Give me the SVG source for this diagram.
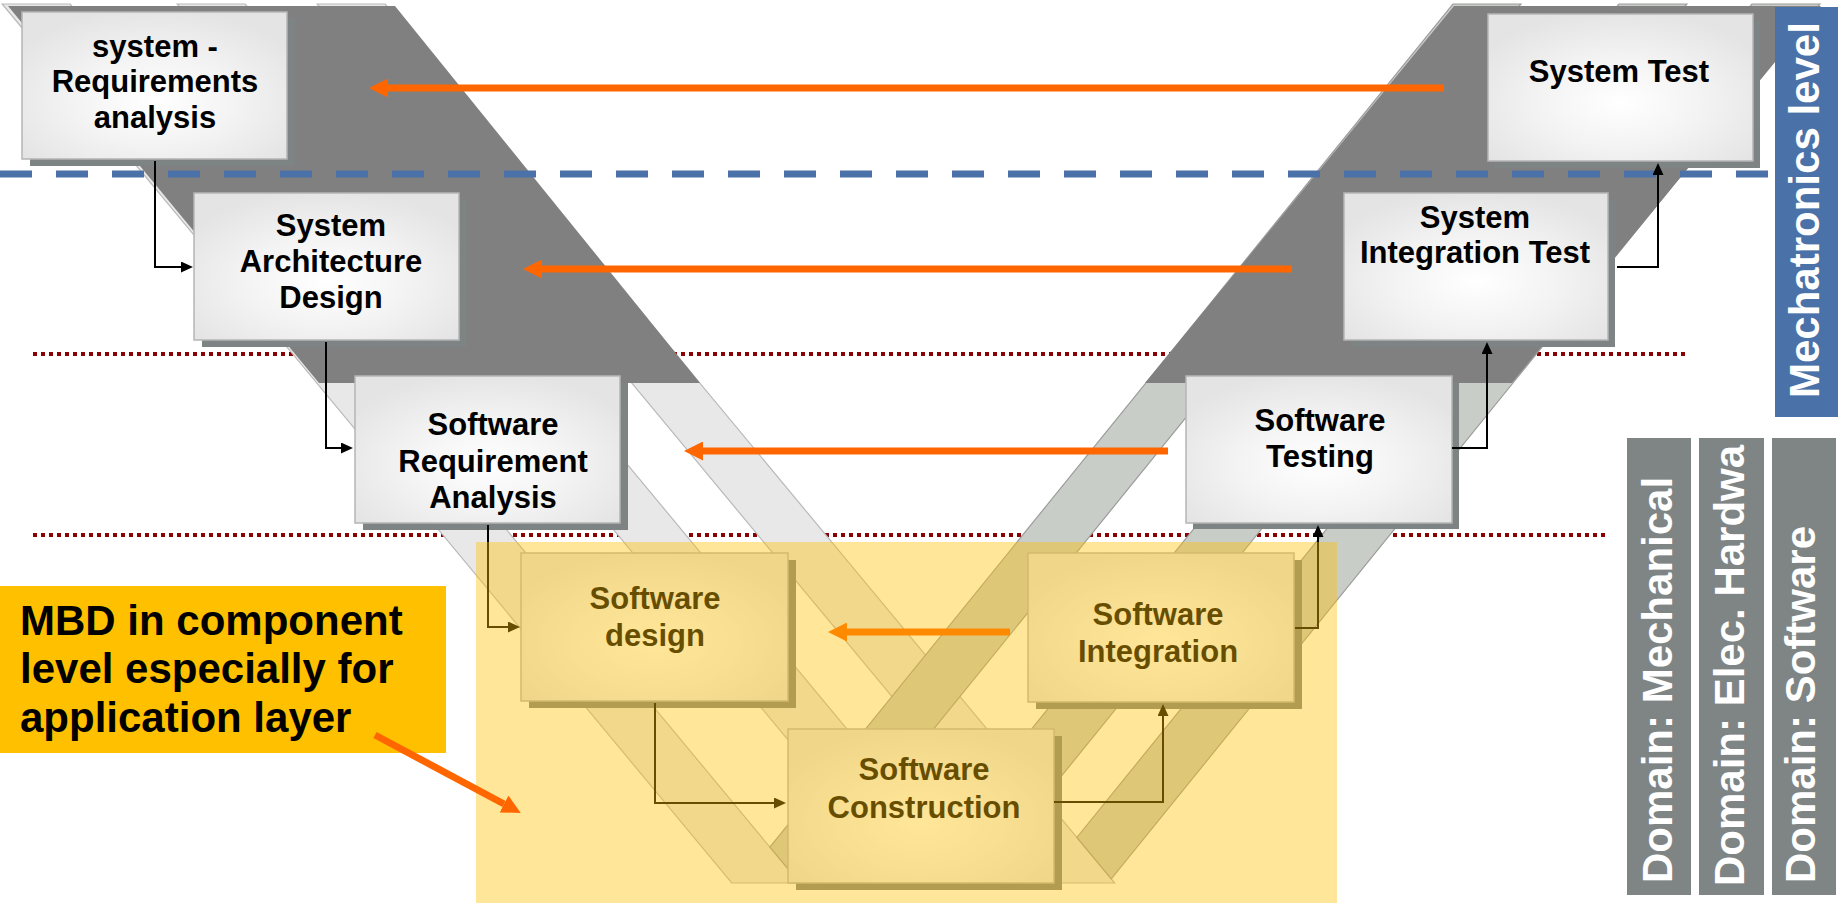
<svg xmlns="http://www.w3.org/2000/svg" width="1843" height="903" viewBox="0 0 1843 903">
<defs>
  <radialGradient id="gBox" cx="0.5" cy="0.6" r="0.62">
    <stop offset="0" stop-color="#ffffff"/>
    <stop offset="0.5" stop-color="#f3f3f3"/>
    <stop offset="1" stop-color="#e4e4e4"/>
  </radialGradient>
  <marker id="ah" markerUnits="userSpaceOnUse" markerWidth="12" markerHeight="11" refX="0" refY="5.5" orient="auto">
    <path d="M0,0 L12,5.5 L0,11 z" fill="#000"/>
  </marker>
  <marker id="oh" markerUnits="userSpaceOnUse" markerWidth="19" markerHeight="19" refX="0" refY="9.5" orient="auto">
    <path d="M0,0 L19,9.5 L0,19 z" fill="#FF6600"/>
  </marker>
  <clipPath id="clipBar2"><rect x="1699" y="438" width="65" height="457"/></clipPath>
</defs>
<style>
  .la{fill:#e8e8e8;stroke:#b9b9b9;stroke-width:1.2}
  .ra{fill:#c9cdc7;stroke:#9c9c9c;stroke-width:1.2}
  .band{fill:#808080}
  .shadow{fill:#7e8484}
  .box{fill:url(#gBox);stroke:#b5b5b5;stroke-width:1.5}
  .bt{font-family:"Liberation Sans",Arial,sans-serif;font-weight:bold;font-size:31px;fill:#000;text-anchor:middle}
  .con{fill:none;stroke:#000;stroke-width:2;marker-end:url(#ah)}
  .oar{fill:none;stroke:#FF6600;stroke-width:7;marker-end:url(#oh)}
  .vt{font-family:"Liberation Sans",Arial,sans-serif;font-weight:bold;font-size:42px;fill:#ffffff}
  .dot{stroke:#8B0000;stroke-width:4;stroke-dasharray:4 4;fill:none}
</style>
<rect x="0" y="0" width="1843" height="903" fill="#ffffff"/>

<g id="level-lines">
  <line class="dot" x1="33" y1="354" x2="1685" y2="354"/>
  <line class="dot" x1="33" y1="535" x2="1608" y2="535"/>
</g>

<g id="v-strips">
  <polygon class="la" points="2.2,4 70.2,4 799.7,883 731.7,883"/>
  <polygon class="la" points="177.2,4 245.2,4 974.7,883 906.7,883"/>
  <polygon class="la" points="317.2,4 385.2,4 1114.7,883 1046.7,883"/>
  <polygon class="ra" points="1452.9,4 1520.9,4 808.9,883 799.7,883 769.9,847.1"/>
  <polygon class="ra" points="1618.9,4 1686.9,4 974.8,883 940.4,841.6"/>
  <polygon class="ra" points="1751.9,4 1819.9,4 1111.3,878.8 1076.9,837.4"/>
</g>

<g id="mechatronics-band">
  <polygon class="band" points="8,6 395,6 700,383 319,383"/>
  <polygon class="band" points="1454,6 1821,6 1512,383 1145,383"/>
</g>

<line id="mechatronics-boundary" x1="0" y1="174" x2="1775" y2="174" stroke="#4A72A8" stroke-width="7" stroke-dasharray="32 24"/>

<g id="node-system-requirements">
  <rect class="shadow" x="30" y="19" width="265" height="147"/>
  <rect class="box" x="22" y="12" width="265" height="147"/>
  <text class="bt" x="155" y="57">system -</text>
  <text class="bt" x="155" y="92">Requirements</text>
  <text class="bt" x="155" y="128">analysis</text>
</g>
<g id="node-system-architecture">
  <rect class="shadow" x="202" y="200" width="265" height="147"/>
  <rect class="box" x="194" y="193" width="265" height="147"/>
  <text class="bt" x="331" y="236">System</text>
  <text class="bt" x="331" y="272">Architecture</text>
  <text class="bt" x="331" y="308">Design</text>
</g>
<g id="node-software-requirement">
  <rect class="shadow" x="363" y="383" width="265" height="147"/>
  <rect class="box" x="355" y="376" width="265" height="147"/>
  <text class="bt" x="493" y="435">Software</text>
  <text class="bt" x="493" y="472">Requirement</text>
  <text class="bt" x="493" y="508">Analysis</text>
</g>
<g id="node-software-design">
  <rect class="shadow" x="529" y="560" width="267" height="148"/>
  <rect class="box" x="521" y="553" width="267" height="148"/>
  <text class="bt" x="655" y="609">Software</text>
  <text class="bt" x="655" y="646">design</text>
</g>
<g id="node-software-construction">
  <rect class="shadow" x="796" y="736" width="266" height="154"/>
  <rect class="box" x="788" y="729" width="266" height="154"/>
  <text class="bt" x="924" y="780">Software</text>
  <text class="bt" x="924" y="818">Construction</text>
</g>
<g id="node-software-integration">
  <rect class="shadow" x="1036" y="560" width="266" height="149"/>
  <rect class="box" x="1028" y="553" width="266" height="149"/>
  <text class="bt" x="1158" y="625">Software</text>
  <text class="bt" x="1158" y="662">Integration</text>
</g>
<g id="node-software-testing">
  <rect class="shadow" x="1193" y="383" width="266" height="146"/>
  <rect class="box" x="1186" y="376" width="266" height="147"/>
  <text class="bt" x="1320" y="431">Software</text>
  <text class="bt" x="1320" y="467">Testing</text>
</g>
<g id="node-system-integration-test">
  <rect class="shadow" x="1351" y="200" width="264" height="147"/>
  <rect class="box" x="1344" y="193" width="264" height="147"/>
  <text class="bt" x="1475" y="228">System</text>
  <text class="bt" x="1475" y="263">Integration Test</text>
</g>
<g id="node-system-test">
  <rect class="shadow" x="1495" y="21" width="265" height="147"/>
  <rect class="box" x="1488" y="14" width="265" height="147"/>
  <text class="bt" x="1619" y="82">System Test</text>
</g>

<g id="connectors">
  <path class="con" d="M155 161 V267 H181"/>
  <path class="con" d="M326 342 V448 H341"/>
  <path class="con" d="M488 525 V627 H508"/>
  <path class="con" d="M655 703 V803 H774"/>
  <path class="con" d="M1054 802 H1163 V716"/>
  <path class="con" d="M1295 628 H1318 V537"/>
  <path class="con" d="M1452 448 H1487 V354"/>
  <path class="con" d="M1617 267 H1658 V175"/>
  <path class="oar" d="M1444 88 H388"/>
  <path class="oar" d="M1292 269 H542"/>
  <path class="oar" d="M1168 451 H703"/>
  <path class="oar" d="M1010 632 H847"/>
</g>

<rect id="mbd-area" x="476" y="542" width="861" height="361" fill="#FFC000" fill-opacity="0.4"/>

<g id="node-mbd-note">
  <rect x="0" y="586" width="446" height="167" fill="#FFC000"/>
  <text x="20" y="635" font-family="'Liberation Sans',Arial,sans-serif" font-weight="bold" font-size="42" fill="#000">MBD in component</text>
  <text x="20" y="683" font-family="'Liberation Sans',Arial,sans-serif" font-weight="bold" font-size="42" fill="#000">level especially for</text>
  <text x="20" y="732" font-family="'Liberation Sans',Arial,sans-serif" font-weight="bold" font-size="42" fill="#000">application layer</text>
  <path class="oar" d="M375 735 L504 804"/>
</g>

<g id="node-mechatronics-level">
  <rect x="1775" y="7" width="63" height="410" fill="#4A72A8"/>
  <text class="vt" transform="translate(1819 398) rotate(-90)">Mechatronics level</text>
</g>
<g id="node-domain-mechanical">
  <rect x="1627" y="438" width="64" height="457" fill="#7F8585"/>
  <text class="vt" transform="translate(1672 883) rotate(-90)">Domain: Mechanical</text>
</g>
<g id="node-domain-elec-hardware">
  <rect x="1699" y="438" width="65" height="457" fill="#7F8585"/>
  <g clip-path="url(#clipBar2)">
    <text class="vt" transform="translate(1744 886) rotate(-90)">Domain: Elec. Hardwa</text>
  </g>
</g>
<g id="node-domain-software">
  <rect x="1772" y="438" width="64" height="457" fill="#7F8585"/>
  <text class="vt" transform="translate(1815 883) rotate(-90)">Domain: Software</text>
</g>
</svg>
